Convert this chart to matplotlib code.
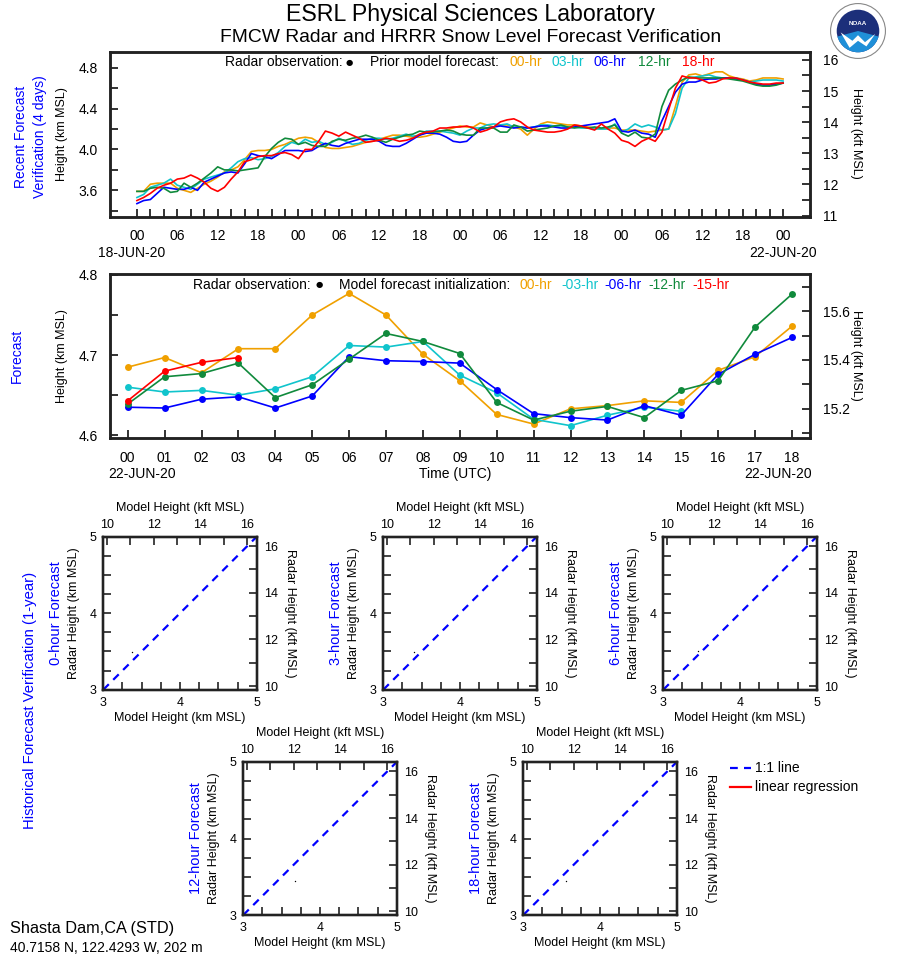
import matplotlib
matplotlib.use('Agg')
import matplotlib.pyplot as plt
import numpy as np
from matplotlib.patches import Circle, Wedge, Polygon

plt.rcParams['font.family'] = ['Liberation Sans', 'DejaVu Sans']

# ---------------- data ----------------
recent_hours = list(range(97))  # hours since 18-JUN-20 00 UTC
recent_00hr = [3.59, 3.59, 3.66, 3.67, 3.67, 3.67, 3.62, 3.60, 3.58, 3.62,
               3.66, 3.69, 3.73, 3.78, 3.80, 3.83, 3.90, 3.98, 3.99, 3.99,
               4.00, 4.03, 4.05, 4.08, 4.11, 4.12, 4.11, 4.07, 4.02, 4.01,
               4.01, 4.02, 4.03, 4.05, 4.07, 4.08, 4.10, 4.12, 4.14, 4.14,
               4.13, 4.12, 4.12, 4.13, 4.15, 4.17, 4.19, 4.21, 4.23, 4.22,
               4.22, 4.26, 4.24, 4.22, 4.24, 4.24, 4.22, 4.20, 4.14, 4.20,
               4.25, 4.27, 4.26, 4.25, 4.24, 4.24, 4.23, 4.22, 4.21, 4.20,
               4.21, 4.21, 4.19, 4.19, 4.19, 4.18, 4.17, 4.18, 4.19, 4.20,
               4.42, 4.66, 4.73, 4.74, 4.72, 4.74, 4.76, 4.76, 4.72, 4.70,
               4.69, 4.67, 4.68, 4.70, 4.70, 4.70, 4.69]
recent_03hr = [3.53, 3.56, 3.63, 3.65, 3.67, 3.71, 3.65, 3.63, 3.61, 3.66,
               3.71, 3.73, 3.75, 3.77, 3.82, 3.88, 3.91, 3.92, 3.90, 3.91,
               3.93, 3.97, 4.03, 4.07, 4.05, 4.10, 4.07, 4.08, 4.05, 4.07,
               4.11, 4.08, 4.05, 4.06, 4.09, 4.11, 4.11, 4.10, 4.11, 4.13,
               4.15, 4.13, 4.14, 4.18, 4.18, 4.18, 4.17, 4.16, 4.14, 4.18,
               4.21, 4.21, 4.24, 4.25, 4.24, 4.25, 4.22, 4.22, 4.21, 4.22,
               4.24, 4.24, 4.23, 4.23, 4.22, 4.22, 4.21, 4.21, 4.20, 4.20,
               4.20, 4.25, 4.17, 4.20, 4.25, 4.22, 4.24, 4.22, 4.19, 4.20,
               4.35, 4.60, 4.70, 4.71, 4.72, 4.73, 4.71, 4.70, 4.70, 4.70,
               4.68, 4.66, 4.67, 4.68, 4.68, 4.68, 4.67]
recent_06hr = [3.47, 3.50, 3.51, 3.57, 3.63, 3.62, 3.61, 3.61, 3.63, 3.60,
               3.68, 3.71, 3.74, 3.77, 3.78, 3.77, 3.86, 3.96, 3.94, 3.93,
               3.91, 3.95, 3.99, 3.99, 3.99, 3.98, 3.99, 4.03, 4.06, 4.04,
               4.03, 4.06, 4.08, 4.10, 4.10, 4.10, 4.08, 4.04, 4.03, 4.03,
               4.06, 4.10, 4.14, 4.16, 4.16, 4.15, 4.12, 4.08, 4.07, 4.08,
               4.14, 4.19, 4.21, 4.22, 4.23, 4.22, 4.21, 4.22, 4.21, 4.22,
               4.23, 4.23, 4.22, 4.21, 4.21, 4.22, 4.23, 4.24, 4.25, 4.26,
               4.27, 4.30, 4.18, 4.17, 4.19, 4.16, 4.15, 4.12, 4.28, 4.42,
               4.56, 4.64, 4.66, 4.66, 4.68, 4.69, 4.69, 4.70, 4.70, 4.69,
               4.68, 4.66, 4.64, 4.63, 4.63, 4.64, 4.65]
recent_12hr = [3.59, 3.59, 3.62, 3.63, 3.62, 3.58, 3.59, 3.67, 3.63, 3.67,
               3.72, 3.77, 3.83, 3.80, 3.80, 3.79, 3.80, 3.81, 3.82, 3.93,
               4.01, 4.07, 4.11, 4.10, 4.05, 4.07, 4.04, 4.03, 4.03, 4.08,
               4.10, 4.09, 4.11, 4.12, 4.14, 4.12, 4.09, 4.07, 4.10, 4.12,
               4.14, 4.15, 4.18, 4.17, 4.17, 4.18, 4.19, 4.18, 4.15, 4.14,
               4.14, 4.21, 4.21, 4.21, 4.17, 4.17, 4.24, 4.22, 4.18, 4.19,
               4.20, 4.21, 4.23, 4.24, 4.22, 4.21, 4.22, 4.21, 4.22, 4.21,
               4.22, 4.24, 4.16, 4.13, 4.17, 4.12, 4.11, 4.15, 4.42, 4.58,
               4.64, 4.68, 4.71, 4.70, 4.70, 4.70, 4.70, 4.70, 4.69, 4.68,
               4.67, 4.65, 4.63, 4.62, 4.62, 4.63, 4.65]
recent_18hr = [3.50, 3.53, 3.57, 3.62, 3.65, 3.67, 3.71, 3.72, 3.75, 3.72,
               3.68, 3.62, 3.59, 3.63, 3.71, 3.78, 3.88, 3.90, 3.93, 3.94,
               3.94, 3.96, 3.97, 3.95, 3.91, 4.00, 4.00, 4.08, 4.18, 4.16,
               4.13, 4.17, 4.14, 4.11, 4.07, 4.08, 4.09, 4.11, 4.10, 4.08,
               4.09, 4.11, 4.15, 4.17, 4.18, 4.21, 4.21, 4.22, 4.22, 4.23,
               4.21, 4.17, 4.19, 4.22, 4.27, 4.29, 4.30, 4.27, 4.22, 4.19,
               4.18, 4.17, 4.17, 4.18, 4.20, 4.24, 4.23, 4.21, 4.19, 4.25,
               4.20, 4.16, 4.09, 4.07, 4.03, 4.08, 4.11, 4.08, 4.17, 4.39,
               4.60, 4.72, 4.70, 4.70, 4.68, 4.65, 4.66, 4.69, 4.70, 4.70,
               4.68, 4.66, 4.65, 4.64, 4.64, 4.65, 4.65]

fc_hours = list(range(19))  # 22-JUN-20 00..18 UTC
fc_00hr = [4.685, 4.697, 4.678, 4.708, 4.708, 4.750, 4.777, 4.750, 4.701, 4.668,
           4.626, 4.614, 4.633, 4.637, 4.643, 4.641, 4.681, 4.698, 4.736]
fc_03hr = [4.660, 4.654, 4.656, 4.650, 4.658, 4.673, 4.712, 4.710, 4.717, 4.675,
           4.653, 4.620, 4.612, 4.625, 4.635, 4.630]
fc_06hr = [4.635, 4.634, 4.645, 4.648, 4.634, 4.649, 4.698, 4.693, 4.692, 4.690,
           4.657, 4.627, 4.622, 4.619, 4.637, 4.625, 4.676, 4.701, 4.722]
fc_12hr = [4.639, 4.673, 4.677, 4.690, 4.647, 4.663, 4.695, 4.727, 4.717, 4.702,
           4.641, 4.619, 4.630, 4.636, 4.622, 4.656, 4.668, 4.735, 4.776]
fc_15hr = [4.643, 4.680, 4.691, 4.697]

hist_panels = ['0-hour Forecast', '3-hour Forecast', '6-hour Forecast',
               '12-hour Forecast', '18-hour Forecast']
hist_model = [[3.37], [3.40], [3.45], [3.67], [3.56]]
hist_radar = [[3.49], [3.49], [3.50], [3.44], [3.44]]

C_ORANGE = '#f0a000'
C_CYAN = '#10c4cc'
C_BLUE = '#0000ff'
C_GREEN = '#108a3c'
C_RED = '#ff0000'
KFT = 0.3048
SPINE = '#222222'

W, H = 898, 956
fig = plt.figure(figsize=(W / 100, H / 100), dpi=100)


def fx(px):
    return px / W


def fy(py):
    return 1 - py / H


def rect(l, t, r, b):
    return [l / W, 1 - b / H, (r - l) / W, (b - t) / H]


def style(ax, lw=1.8):
    for s in ax.spines.values():
        s.set_linewidth(lw)
        s.set_color(SPINE)


# ---------------- titles ----------------
fig.text(fx(471), fy(15), 'ESRL Physical Sciences Laboratory', ha='center', va='center',
         fontsize=16.7)
fig.text(fx(471), fy(38), 'FMCW Radar and HRRR Snow Level Forecast Verification', ha='center',
         va='center', fontsize=13.9)

# NOAA logo (simple drawing)
lax = fig.add_axes(rect(830, 3, 886, 59))
lax.set_xlim(-1, 1)
lax.set_ylim(-1, 1)
lax.set_aspect('equal')
lax.axis('off')
lax.add_patch(Circle((0, 0), 0.98, facecolor='white', edgecolor='#888888', lw=0.8))
lax.add_patch(Circle((0, 0), 0.76, facecolor='#1c2f7a', edgecolor='none'))
lax.add_patch(Wedge((0, 0), 0.76, 195, 345, facecolor='#1f8fd8', edgecolor='none'))
lax.add_patch(Polygon([[-0.62, -0.05], [-0.2, -0.35], [0.0, -0.15], [0.25, -0.4], [0.62, -0.1],
                       [0.3, -0.55], [0.0, -0.35], [-0.3, -0.6]], closed=True,
                      facecolor='white', edgecolor='none'))
lax.text(0, 0.28, 'NOAA', color='white', ha='center', va='center', fontsize=4.5, weight='bold')

# ---------------- recent forecast panel ----------------
ax1 = fig.add_axes(rect(110, 51.7, 810, 216.7))
style(ax1)
for vals, c in [(recent_00hr, C_ORANGE), (recent_03hr, C_CYAN), (recent_06hr, C_BLUE),
                (recent_12hr, C_GREEN), (recent_18hr, C_RED)]:
    ax1.plot(recent_hours, vals, color=c, lw=1.2)
ax1.set_xlim(-4, 100)
ax1.set_ylim(3.342, 4.957)
xt = list(range(0, 97, 2))
ax1.set_xticks(xt)
ax1.set_xticklabels([f'{h % 24:02d}' if h % 6 == 0 else '' for h in xt])
yt = [3.4, 3.6, 3.8, 4.0, 4.2, 4.4, 4.6, 4.8]
ax1.set_yticks(yt)
ax1.set_yticklabels(['', '3.6', '', '4.0', '', '4.4', '', '4.8'])
ax1.tick_params(direction='in', length=6, width=1.3, labelsize=10, color=SPINE)
ax1.tick_params(axis='x', pad=9)
ax1.tick_params(axis='y', pad=9)
ax1r = ax1.twinx()
style(ax1r)
ax1r.set_ylim(3.342 / KFT, 4.957 / KFT)
rt = list(np.arange(11, 16.01, 0.5))
ax1r.set_yticks(rt)
ax1r.set_yticklabels([f'{int(v)}' if v == int(v) else '' for v in rt])
ax1r.tick_params(direction='in', length=6, width=1.3, labelsize=10, pad=9, color=SPINE)

fig.text(fx(132), fy(253), '18-JUN-20', ha='center', va='center', fontsize=10)
fig.text(fx(783), fy(253), '22-JUN-20', ha='center', va='center', fontsize=10)
fig.text(fx(62), fy(134), 'Height (km MSL)', rotation=90, ha='center', va='center', fontsize=9)
fig.text(fx(856), fy(133), 'Height (kft MSL)', rotation=-90, ha='center', va='center', fontsize=9)
fig.text(fx(21), fy(137), 'Recent Forecast', rotation=90, ha='center', va='center',
         fontsize=10, color='blue')
fig.text(fx(40), fy(137), 'Verification (4 days)', rotation=90, ha='center', va='center',
         fontsize=10, color='blue')

ly = fy(62)
fig.text(fx(225), ly, 'Radar observation:', ha='left', va='center', fontsize=10)
fig.text(fx(349), ly, '\u25CF', ha='center', va='center', fontsize=6, family='DejaVu Sans')
fig.text(fx(370), ly, 'Prior model forecast:', ha='left', va='center', fontsize=10)
for x, t, c in [(510, '00-hr', C_ORANGE), (552, '03-hr', C_CYAN), (594, '06-hr', C_BLUE),
                (638, '12-hr', C_GREEN), (682, '18-hr', C_RED)]:
    fig.text(fx(x), ly, t, ha='left', va='center', fontsize=10, color=c)

# ---------------- forecast panel ----------------
ax2 = fig.add_axes(rect(110, 274, 810, 438))
style(ax2)
for vals, c in [(fc_00hr, C_ORANGE), (fc_03hr, C_CYAN), (fc_06hr, C_BLUE),
                (fc_12hr, C_GREEN), (fc_15hr, C_RED)]:
    ax2.plot(fc_hours[:len(vals)], vals, color=c, lw=1.2, marker='o', ms=5,
             markeredgewidth=0)
ax2.set_xlim(-0.48, 18.49)
ax2.set_ylim(4.5966, 4.8012)
ax2.set_xticks(fc_hours)
ax2.set_xticklabels([f'{h:02d}' for h in fc_hours])
yt2 = [4.6, 4.65, 4.7, 4.75, 4.8]
ax2.set_yticks(yt2)
ax2.set_yticklabels(['4.6', '', '4.7', '', '4.8'])
ax2.tick_params(direction='in', length=6, width=1.3, labelsize=10, color=SPINE)
ax2.tick_params(axis='x', pad=9)
ax2.tick_params(axis='y', pad=9)
ax2r = ax2.twinx()
style(ax2r)
ax2r.set_ylim(4.5966 / KFT, 4.8012 / KFT)
rt2 = [15.1, 15.2, 15.3, 15.4, 15.5, 15.6, 15.7]
ax2r.set_yticks(rt2)
ax2r.set_yticklabels(['', '15.2', '', '15.4', '', '15.6', ''])
ax2r.tick_params(direction='in', length=6, width=1.3, labelsize=10, pad=9, color=SPINE)

fig.text(fx(142), fy(474), '22-JUN-20', ha='center', va='center', fontsize=10)
fig.text(fx(778), fy(474), '22-JUN-20', ha='center', va='center', fontsize=10)
fig.text(fx(455), fy(474), 'Time (UTC)', ha='center', va='center', fontsize=10)
fig.text(fx(62), fy(356), 'Height (km MSL)', rotation=90, ha='center', va='center', fontsize=9)
fig.text(fx(856), fy(355), 'Height (kft MSL)', rotation=-90, ha='center', va='center', fontsize=9)
fig.text(fx(17), fy(356), 'Forecast', rotation=90, ha='center', va='center',
         fontsize=10, color='blue')

ly2 = fy(285)
fig.text(fx(193), ly2, 'Radar observation:', ha='left', va='center', fontsize=10)
fig.text(fx(319), ly2, '\u25CF', ha='center', va='center', fontsize=6, family='DejaVu Sans')
fig.text(fx(339), ly2, 'Model forecast initialization:', ha='left', va='center', fontsize=10)
for x, t, c in [(519, '00-hr', C_ORANGE), (561, '-03-hr', C_CYAN), (604, '-06-hr', C_BLUE),
                (648, '-12-hr', C_GREEN), (692, '-15-hr', C_RED)]:
    fig.text(fx(x), ly2, t, ha='left', va='center', fontsize=10, color=c)

# ---------------- historical scatter panels ----------------
panel_pos = [(103.3, 536.7), (383.3, 536.7), (663.3, 536.7), (243.3, 762.0), (523.3, 762.0)]
PW, PH = 153.4, 153.0
for (l, t), name, mx, my in zip(panel_pos, hist_panels, hist_model, hist_radar):
    ax = fig.add_axes(rect(l, t, l + PW, t + PH))
    style(ax, 1.6)
    ax.set_xlim(3, 5)
    ax.set_ylim(3, 5)
    ax.plot([3, 5], [3, 5], color='blue', lw=1.6, ls=(0, (3.5, 2.8)))
    ax.plot(mx, my, 'o', color='black', ms=1.0, markeredgewidth=0)
    kt = list(np.arange(3, 5.01, 0.25))
    ax.set_xticks(kt)
    ax.set_yticks(kt)
    lab = [f'{int(v)}' if v == int(v) else '' for v in kt]
    ax.set_xticklabels(lab)
    ax.set_yticklabels(lab)
    ax.tick_params(direction='in', length=6, width=1.2, labelsize=9, pad=5, color=SPINE)
    axt = ax.twiny()
    style(axt, 1.6)
    axt.set_xlim(3 / KFT, 5 / KFT)
    ft = list(range(10, 17))
    axt.set_xticks(ft)
    axt.set_xticklabels([str(v) if v % 2 == 0 else '' for v in ft])
    axt.tick_params(direction='in', length=6, width=1.2, labelsize=9, pad=4, color=SPINE)
    axr = ax.twinx()
    style(axr, 1.6)
    axr.set_ylim(3 / KFT, 5 / KFT)
    axr.set_yticks(ft)
    axr.set_yticklabels([str(v) if v % 2 == 0 else '' for v in ft])
    axr.tick_params(direction='in', length=6, width=1.2, labelsize=9, pad=5, color=SPINE)
    cx = l + PW / 2
    cy = t + PH / 2
    fig.text(fx(cx), fy(t - 29), 'Model Height (kft MSL)', ha='center', va='center', fontsize=9)
    fig.text(fx(cx), fy(t + PH + 28), 'Model Height (km MSL)', ha='center', va='center', fontsize=9)
    fig.text(fx(l - 29), fy(cy), 'Radar Height (km MSL)', rotation=90, ha='center', va='center',
             fontsize=9)
    fig.text(fx(l + PW + 33), fy(cy), 'Radar Height (kft MSL)', rotation=-90, ha='center',
             va='center', fontsize=9)
    fig.text(fx(l - 47), fy(cy), name, rotation=90, ha='center', va='center', fontsize=10.5,
             color='blue')

fig.text(fx(30), fy(700), 'Historical Forecast Verification (1-year)', rotation=90, ha='center',
         va='center', fontsize=10.7, color='blue')

# legend for scatter panels
fig.lines.append(plt.Line2D([fx(730), fx(751)], [fy(768), fy(768)], transform=fig.transFigure,
                            color='blue', lw=1.6, ls=(0, (3.5, 2.8))))
fig.lines.append(plt.Line2D([fx(730), fx(751)], [fy(787), fy(787)], transform=fig.transFigure,
                            color='red', lw=1.6))
fig.text(fx(755), fy(768), '1:1 line', ha='left', va='center', fontsize=10)
fig.text(fx(755), fy(787), 'linear regression', ha='left', va='center', fontsize=10)

# station info
fig.text(fx(10), fy(929), 'Shasta Dam,CA (STD)', ha='left', va='center', fontsize=11.7)
fig.text(fx(10), fy(948), '40.7158 N, 122.4293 W, 202 m', ha='left', va='center', fontsize=10)

fig.savefig('out.png', dpi=100)
